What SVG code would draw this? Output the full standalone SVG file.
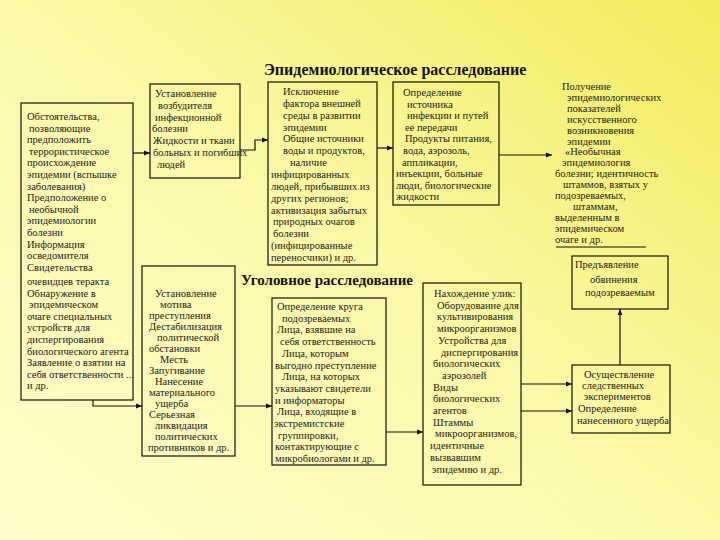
<svg xmlns="http://www.w3.org/2000/svg" width="720" height="540" viewBox="0 0 720 540">
<defs>
<linearGradient id="bg" x1="0" y1="1" x2="1" y2="0">
<stop offset="0" stop-color="#fdfdcc"/>
<stop offset="0.5" stop-color="#fbf9a8"/>
<stop offset="1" stop-color="#f2ec5c"/>
</linearGradient>
<marker id="ah" viewBox="0 0 10 10" refX="10" refY="5" markerWidth="6" markerHeight="6" orient="auto" markerUnits="userSpaceOnUse">
<path d="M0,1 L10,5 L0,9 z" fill="#111"/>
</marker>
<style>
.box{fill:none;stroke:#111;stroke-width:1.2}
.t{font-family:"Liberation Serif","Times New Roman",serif;font-size:10.5px;fill:#222}
.h{font-family:"Liberation Serif","Times New Roman",serif;font-weight:bold;fill:#111}
.c{fill:none;stroke:#111;stroke-width:1.2}
</style>
</defs>
<rect width="720" height="540" fill="url(#bg)"/>

<text class="h" x="264" y="75" font-size="16">Эпидемиологическое расследование</text>
<text class="h" x="241" y="285" font-size="15">Уголовное расследование</text>

<g id="left-box">
<rect class="box" x="21" y="103" width="112" height="297"/>
<text class="t">
<tspan x="27" y="120">Обстоятельства,</tspan>
<tspan x="29" y="131.6">позволяющие</tspan>
<tspan x="27" y="143.2">предположить</tspan>
<tspan x="29" y="154.8">террористическое</tspan>
<tspan x="27" y="166.4">происхождение</tspan>
<tspan x="27" y="178">эпидемии (вспышке</tspan>
<tspan x="27" y="189.6">заболевания)</tspan>
<tspan x="27" y="201.2">Предположение о</tspan>
<tspan x="29" y="212.8">необычной</tspan>
<tspan x="27" y="224.4">эпидемиологии</tspan>
<tspan x="27" y="236">болезни</tspan>
<tspan x="27" y="247.6">Информация</tspan>
<tspan x="27" y="259.2">осведомителя</tspan>
<tspan x="27" y="270.8">Свидетельства</tspan>
<tspan x="27" y="285">очевидцев теракта</tspan>
<tspan x="27" y="296.6">Обнаружение в</tspan>
<tspan x="29" y="308.2">эпидемическом</tspan>
<tspan x="27" y="319.8">очаге специальных</tspan>
<tspan x="27" y="331.4">устройств для</tspan>
<tspan x="27" y="343">диспергирования</tspan>
<tspan x="27" y="354.6">биологического агента</tspan>
<tspan x="27" y="366.2">Заявление о взятии на</tspan>
<tspan x="27" y="377.8">себя ответственности ...</tspan>
<tspan x="27" y="389.4">и др.</tspan>
</text>
</g>

<g id="top-box-1">
<rect class="box" x="150" y="84" width="90" height="94"/>
<text class="t">
<tspan x="155" y="97">Установление</tspan>
<tspan x="158" y="108.8">возбудителя</tspan>
<tspan x="155" y="120.6">инфекционной</tspan>
<tspan x="152" y="132.4">болезни</tspan>
<tspan x="153" y="144.2">Жидкости и ткани</tspan>
<tspan x="153" y="156">больных и погибших</tspan>
<tspan x="157" y="167.8">людей</tspan>
</text>
</g>

<g id="top-box-2">
<rect class="box" x="268" y="82" width="109" height="183"/>
<text class="t">
<tspan x="283" y="95">Исключение</tspan>
<tspan x="283" y="106.9">фактора внешней</tspan>
<tspan x="283" y="118.7">среды в развитии</tspan>
<tspan x="283" y="130.6">эпидемии</tspan>
<tspan x="283" y="142.4">Общие источники</tspan>
<tspan x="283" y="154.3">воды и продуктов,</tspan>
<tspan x="290" y="166.1">наличие</tspan>
<tspan x="271" y="178">инфицированных</tspan>
<tspan x="271" y="189.8">людей, прибывших из</tspan>
<tspan x="271" y="201.7">других регионов;</tspan>
<tspan x="271" y="213.5">активизация забытых</tspan>
<tspan x="273" y="225.4">природных очагов</tspan>
<tspan x="273" y="237.2">болезни</tspan>
<tspan x="271" y="249.1">(инфицированные</tspan>
<tspan x="271" y="260.9">переносчики) и др.</tspan>
</text>
</g>

<g id="top-box-3">
<rect class="box" x="393" y="82" width="106" height="123"/>
<text class="t">
<tspan x="403" y="96">Определение</tspan>
<tspan x="407" y="107.6">источника</tspan>
<tspan x="407" y="119.2">инфекции и путей</tspan>
<tspan x="405" y="130.8">ее передачи</tspan>
<tspan x="405" y="142.4">Продукты питания,</tspan>
<tspan x="403" y="154">вода, аэрозоль,</tspan>
<tspan x="402" y="165.6">аппликации,</tspan>
<tspan x="396" y="177.2">инъекции, больные</tspan>
<tspan x="396" y="188.8">люди, биологические</tspan>
<tspan x="396" y="200.4">жидкости</tspan>
</text>
</g>

<g id="top-right-box">
<line class="box" x1="556" y1="247" x2="646" y2="247"/>
<text class="t">
<tspan x="562" y="90">Получение</tspan>
<tspan x="567" y="100.9">эпидемиологических</tspan>
<tspan x="567" y="111.8">показателей</tspan>
<tspan x="567" y="122.7">искусственного</tspan>
<tspan x="567" y="133.6">возникновения</tspan>
<tspan x="567" y="144.5">эпидемии</tspan>
<tspan x="565" y="155.4">«Необычная</tspan>
<tspan x="562" y="166.3">эпидемиология</tspan>
<tspan x="555" y="177.2">болезни; идентичность</tspan>
<tspan x="563" y="188.1">штаммов, взятых у</tspan>
<tspan x="555" y="199">подозреваемых,</tspan>
<tspan x="573" y="209.9">штаммам,</tspan>
<tspan x="555" y="220.8">выделенным в</tspan>
<tspan x="555" y="231.7">эпидемическом</tspan>
<tspan x="555" y="242.6">очаге и др.</tspan>
</text>
</g>

<g id="lower-box-1">
<rect class="box" x="142" y="266" width="93" height="190"/>
<text class="t">
<tspan x="155" y="297">Установление</tspan>
<tspan x="160" y="308">мотива</tspan>
<tspan x="149" y="319">преступления</tspan>
<tspan x="149" y="330">Дестабилизация</tspan>
<tspan x="157" y="341">политической</tspan>
<tspan x="149" y="352">обстановки</tspan>
<tspan x="160" y="363">Месть</tspan>
<tspan x="149" y="374">Запугивание</tspan>
<tspan x="155" y="385">Нанесение</tspan>
<tspan x="149" y="396">материального</tspan>
<tspan x="155" y="407">ущерба</tspan>
<tspan x="149" y="418">Серьезная</tspan>
<tspan x="155" y="429">ликвидация</tspan>
<tspan x="155" y="440">политических</tspan>
<tspan x="148" y="451">противников и др.</tspan>
</text>
</g>

<g id="lower-box-2">
<rect class="box" x="272" y="298" width="114" height="167"/>
<text class="t">
<tspan x="277" y="310">Определение круга</tspan>
<tspan x="282" y="321.7">подозреваемых</tspan>
<tspan x="277" y="333.4">Лица, взявшие на</tspan>
<tspan x="280" y="345.1">себя ответственность</tspan>
<tspan x="282" y="356.8">Лица, которым</tspan>
<tspan x="275" y="368.5">выгодно преступление</tspan>
<tspan x="282" y="380.2">Лица, на которых</tspan>
<tspan x="275" y="391.9">указывают свидетели</tspan>
<tspan x="275" y="403.6">и информаторы</tspan>
<tspan x="277" y="415.3">Лица, входящие в</tspan>
<tspan x="274" y="427">экстремистские</tspan>
<tspan x="278" y="438.7">группировки,</tspan>
<tspan x="275" y="450.4">контактирующие с</tspan>
<tspan x="275" y="462.1">микробиологами и др.</tspan>
</text>
</g>

<g id="lower-box-3">
<rect class="box" x="423" y="283" width="98" height="202"/>
<text class="t">
<tspan x="434" y="297">Нахождение улик:</tspan>
<tspan x="437" y="308.7">Оборудование для</tspan>
<tspan x="437" y="320.4">культивирования</tspan>
<tspan x="437" y="332.1">микроорганизмов</tspan>
<tspan x="438" y="343.8">Устройства для</tspan>
<tspan x="441" y="355.5">диспергирования</tspan>
<tspan x="433" y="367.2">биологических</tspan>
<tspan x="442" y="378.9">аэрозолей</tspan>
<tspan x="433" y="390.6">Виды</tspan>
<tspan x="433" y="402.3">биологических</tspan>
<tspan x="433" y="414">агентов</tspan>
<tspan x="433" y="425.7">Штаммы</tspan>
<tspan x="435" y="437.4">микроорганизмов,</tspan>
<tspan x="430" y="449.1">идентичные</tspan>
<tspan x="430" y="460.8">вызвавшим</tspan>
<tspan x="432" y="472.5">эпидемию и др.</tspan>
</text>
</g>

<g id="right-mid-box">
<rect class="box" x="572" y="256" width="96" height="53"/>
<text class="t">
<tspan x="575" y="268">Предъявление</tspan>
<tspan x="590" y="283">обвинения</tspan>
<tspan x="585" y="296">подозреваемым</tspan>
</text>
</g>

<g id="right-low-box">
<rect class="box" x="572" y="365" width="98" height="68"/>
<text class="t">
<tspan x="584" y="378">Осуществление</tspan>
<tspan x="582" y="389">следственных</tspan>
<tspan x="584" y="400">экспериментов</tspan>
<tspan x="578" y="412">Определение</tspan>
<tspan x="577" y="424">нанесенного ущерба</tspan>
</text>
</g>

<g id="connectors">
<line class="c" x1="133" y1="153" x2="150" y2="153" marker-end="url(#ah)"/>
<polyline class="c" points="240,150 255,150 255,140 268,140" marker-end="url(#ah)"/>
<line class="c" x1="377" y1="148" x2="393" y2="148" marker-end="url(#ah)"/>
<line class="c" x1="499" y1="155" x2="552" y2="155" marker-end="url(#ah)"/>
<polyline class="c" points="93,400 93,406 142,406" marker-end="url(#ah)"/>
<line class="c" x1="235" y1="406" x2="272" y2="406" marker-end="url(#ah)"/>
<line class="c" x1="386" y1="432" x2="423" y2="432" marker-end="url(#ah)"/>
<line class="c" x1="521" y1="411" x2="572" y2="411" marker-end="url(#ah)"/>
<line class="c" x1="521" y1="384" x2="572" y2="384" marker-end="url(#ah)"/>
<line class="c" x1="620" y1="365" x2="620" y2="309" marker-end="url(#ah)"/>
</g>
</svg>
